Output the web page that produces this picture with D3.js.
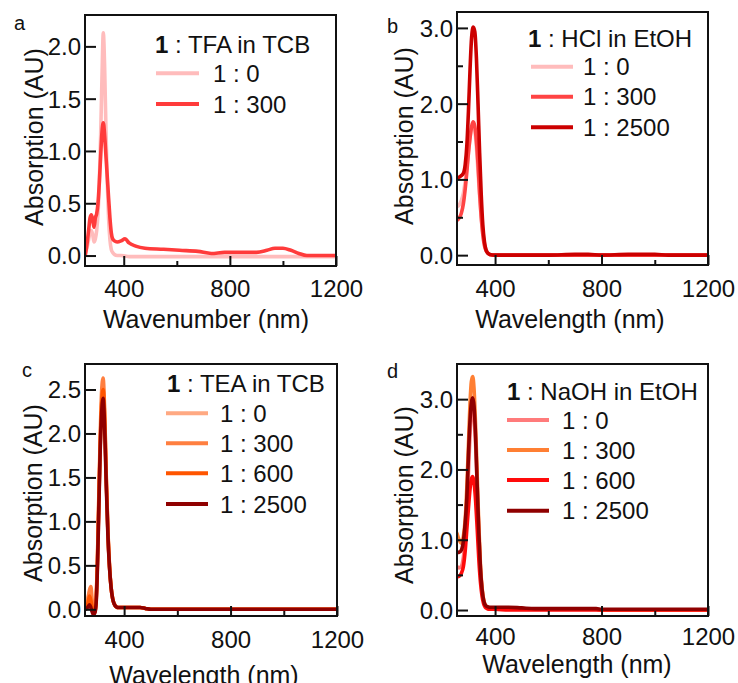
<!DOCTYPE html>
<html>
<head>
<meta charset="utf-8">
<script src="https://cdn.jsdelivr.net/npm/d3@7"></script>
<style>
  html, body { margin: 0; padding: 0; background: #fff; }
  svg { display: block; }
  text { font-family: "Liberation Sans", Arial, Helvetica, sans-serif; fill: #111; }
</style>
</head>
<body>
<svg id="chart" width="738" height="683"></svg>
<script>
// ---------- data: UV-vis absorption spectra (wavelength in nm, absorbance in AU) ----------

// (a) 1 : TFA in TCB
const waveA = [255, 262, 268, 273, 278, 283, 288, 293, 298, 303, 308, 313, 318, 323, 328, 333, 338, 343, 348, 353, 358, 365, 375, 390, 405, 420, 445, 480, 550, 610, 680, 730, 780, 850, 900, 940, 970, 1000, 1030, 1060, 1090, 1130, 1200];
const tfa_1_0   = [0.02, 0.08, 0.16, 0.22, 0.24, 0.20, 0.13, 0.16, 0.24, 0.40, 0.70, 1.15, 1.70, 2.13, 1.80, 1.20, 0.70, 0.35, 0.15, 0.06, 0.03, 0.01, 0.00, 0.00, -0.005, -0.01, -0.01, -0.01, -0.01, -0.01, -0.01, -0.01, -0.01, -0.01, -0.01, -0.01, -0.01, -0.01, -0.01, -0.01, -0.01, -0.01, -0.01];
const tfa_1_300 = [0.00, 0.12, 0.25, 0.36, 0.39, 0.34, 0.27, 0.36, 0.40, 0.50, 0.70, 0.95, 1.18, 1.27, 1.15, 0.95, 0.75, 0.55, 0.36, 0.22, 0.16, 0.14, 0.13, 0.14, 0.16, 0.12, 0.09, 0.07, 0.06, 0.05, 0.04, 0.02, 0.03, 0.03, 0.03, 0.05, 0.07, 0.07, 0.05, 0.02, 0.00, 0.00, 0.00];

// (b) 1 : HCl in EtOH
const waveB = [257, 265, 273, 281, 288, 294, 300, 306, 312, 318, 324, 330, 336, 342, 348, 354, 360, 366, 372, 380, 400, 450, 500, 600, 700, 750, 800, 900, 950, 1000, 1050, 1100, 1200];
const hcl_1_0    = [0.64, 0.66, 0.72, 0.82, 0.98, 1.15, 1.35, 1.55, 1.68, 1.72, 1.65, 1.42, 1.10, 0.78, 0.50, 0.30, 0.15, 0.07, 0.03, 0.01, 0.00, 0.00, 0.00, 0.00, 0.00, 0.00, 0.00, 0.00, 0.00, 0.00, 0.00, 0.00, 0.00];
const hcl_1_300  = [0.46, 0.49, 0.55, 0.68, 0.88, 1.10, 1.35, 1.55, 1.70, 1.76, 1.70, 1.50, 1.20, 0.82, 0.50, 0.27, 0.13, 0.06, 0.03, 0.01, 0.00, 0.00, 0.00, 0.00, 0.00, 0.00, 0.00, 0.00, 0.00, 0.00, 0.00, 0.00, 0.00];
const hcl_1_2500 = [1.01, 1.03, 1.05, 1.08, 1.20, 1.45, 1.90, 2.45, 2.88, 3.01, 2.95, 2.60, 2.00, 1.35, 0.80, 0.40, 0.18, 0.07, 0.03, 0.01, 0.00, 0.00, 0.00, 0.00, 0.01, 0.01, 0.00, 0.01, 0.01, 0.01, 0.00, 0.00, 0.00];

// (c) 1 : TEA in TCB
const waveC = [254, 260, 265, 270, 275, 280, 285, 290, 295, 300, 305, 310, 315, 321, 327, 333, 339, 345, 351, 357, 363, 370, 380, 400, 430, 460, 480, 500, 600, 800, 1000, 1200];
const tea_1_0    = [0.02, 0.08, 0.15, 0.20, 0.12, 0.02, -0.03, -0.02, 0.15, 0.60, 1.25, 1.85, 2.30, 2.52, 2.20, 1.50, 0.90, 0.50, 0.25, 0.12, 0.06, 0.03, 0.02, 0.02, 0.02, 0.02, 0.01, 0.00, 0.00, 0.00, 0.00, 0.00];
const tea_1_300  = [0.00, 0.05, 0.12, 0.22, 0.26, 0.10, -0.04, -0.03, 0.12, 0.60, 1.30, 1.95, 2.45, 2.63, 2.25, 1.50, 0.90, 0.50, 0.25, 0.12, 0.06, 0.03, 0.02, 0.02, 0.02, 0.02, 0.01, 0.00, 0.00, 0.00, 0.00, 0.00];
const tea_1_600  = [0.00, 0.03, 0.08, 0.15, 0.10, 0.02, -0.05, -0.03, 0.10, 0.55, 1.20, 1.85, 2.30, 2.50, 2.15, 1.45, 0.88, 0.49, 0.25, 0.12, 0.06, 0.03, 0.02, 0.02, 0.02, 0.02, 0.01, 0.00, 0.00, 0.00, 0.00, 0.00];
const tea_1_2500 = [0.00, 0.01, 0.03, 0.05, 0.02, -0.03, -0.06, -0.04, 0.08, 0.50, 1.15, 1.80, 2.20, 2.40, 2.05, 1.40, 0.85, 0.48, 0.25, 0.12, 0.06, 0.03, 0.02, 0.02, 0.02, 0.02, 0.01, 0.00, 0.00, 0.00, 0.00, 0.00];

// (d) 1 : NaOH in EtOH
const waveD = [257, 265, 273, 281, 288, 294, 300, 306, 311, 316, 321, 327, 333, 339, 345, 351, 357, 363, 370, 380, 400, 450, 500, 550, 650, 780, 800, 900, 1000, 1100, 1200];
const naoh_1_0    = [0.62, 0.60, 0.62, 0.75, 1.00, 1.40, 1.95, 2.50, 2.80, 2.88, 2.75, 2.35, 1.75, 1.10, 0.60, 0.30, 0.14, 0.07, 0.04, 0.03, 0.03, 0.02, 0.02, 0.01, 0.01, 0.01, 0.00, 0.00, 0.00, 0.00, 0.00];
const naoh_1_300  = [1.09, 1.00, 0.95, 1.05, 1.30, 1.75, 2.35, 2.95, 3.25, 3.32, 3.15, 2.60, 1.90, 1.20, 0.65, 0.32, 0.15, 0.07, 0.04, 0.03, 0.03, 0.02, 0.02, 0.01, 0.01, 0.01, 0.00, 0.00, 0.00, 0.00, 0.00];
const naoh_1_600  = [0.47, 0.48, 0.52, 0.62, 0.85, 1.15, 1.45, 1.72, 1.86, 1.90, 1.82, 1.55, 1.15, 0.72, 0.40, 0.20, 0.09, 0.04, 0.02, 0.01, 0.01, 0.00, 0.00, 0.00, 0.00, 0.00, 0.00, 0.00, 0.00, 0.00, 0.00];
const naoh_1_2500 = [0.83, 0.82, 0.85, 0.98, 1.25, 1.60, 2.20, 2.70, 2.95, 3.02, 2.90, 2.45, 1.75, 1.10, 0.60, 0.30, 0.14, 0.07, 0.05, 0.04, 0.04, 0.04, 0.03, 0.02, 0.02, 0.02, 0.01, 0.01, 0.01, 0.01, 0.01];

// legend labels and axis ticks
const ratioLabels2 = ["1 : 0", "1 : 300"];
const ratioLabels3 = ["1 : 0", "1 : 300", "1 : 2500"];
const ratioLabels4 = ["1 : 0", "1 : 300", "1 : 600", "1 : 2500"];
const xMajorTicks = [400, 800, 1200];
const xMinorTicks = [600, 1000];
const yTicksA = [0, 0.5, 1.0, 1.5, 2.0];
const yTicksB = [0, 1, 2, 3];
const yMinorB = [0.5, 1.5, 2.5];
const yTicksC = [0, 0.5, 1.0, 1.5, 2.0, 2.5];
const yTicksD = [0, 1, 2, 3];
const yMinorD = [0.5, 1.5, 2.5];

// ---------- panel layout ----------
const panels = [
  {
    letter: "a", letterPos: [14, 30],
    box: { x0: 85, x1: 336, y0: 15, y1: 266 },
    xDomain: [254, 1200], yDomain: [-0.1, 2.3],
    yTicks: yTicksA, yMinor: [],
    xTitle: "Wavenumber (nm)", xTitlePos: [206, 328], xTickBase: 297,
    yTitlePos: [43, 137],
    legendTitle: " : TFA in TCB", legendTitlePos: [155, 53],
    legendRows: [73.3, 104], legendLine: [156, 199], legendText: 213,
    wave: waveA, series: [tfa_1_0, tfa_1_300], labels: ratioLabels2,
    colors: ["#ffbcbc", "#ff3b3b"]
  },
  {
    letter: "b", letterPos: [387, 33],
    box: { x0: 457, x1: 708, y0: 12, y1: 265 },
    xDomain: [257, 1200], yDomain: [-0.13, 3.21],
    yTicks: yTicksB, yMinor: yMinorB,
    xTitle: "Wavelength (nm)", xTitlePos: [570, 328], xTickBase: 297,
    yTitlePos: [413, 136],
    legendTitle: " : HCl in EtOH", legendTitlePos: [528, 47],
    legendRows: [66.7, 96.7, 127.3], legendLine: [531, 573], legendText: 583,
    wave: waveB, series: [hcl_1_0, hcl_1_300, hcl_1_2500], labels: ratioLabels3,
    colors: ["#ffbcbc", "#ff4444", "#cc0000"]
  },
  {
    letter: "c", letterPos: [22, 377],
    box: { x0: 85, x1: 337, y0: 364, y1: 616 },
    xDomain: [253, 1200], yDomain: [-0.076, 2.79],
    yTicks: yTicksC, yMinor: [],
    xTitle: "Wavelength (nm)", xTitlePos: [204, 684], xTickBase: 648,
    yTitlePos: [42, 493],
    legendTitle: " : TEA in TCB", legendTitlePos: [167, 392],
    legendRows: [413.3, 443.3, 473.3, 504], legendLine: [166, 208], legendText: 220,
    wave: waveC, series: [tea_1_0, tea_1_300, tea_1_600, tea_1_2500], labels: ratioLabels4,
    colors: ["#ffa982", "#ff7f40", "#ff5500", "#8f0000"]
  },
  {
    letter: "d", letterPos: [387, 378],
    box: { x0: 457, x1: 708, y0: 364, y1: 616 },
    xDomain: [257, 1200], yDomain: [-0.085, 3.5],
    yTicks: yTicksD, yMinor: yMinorD,
    xTitle: "Wavelength (nm)", xTitlePos: [577, 673], xTickBase: 645,
    yTitlePos: [413, 495],
    legendTitle: " : NaOH in EtOH", legendTitlePos: [507, 400],
    legendRows: [420, 450, 480, 510.7], legendLine: [507, 549], legendText: 562,
    wave: waveD, series: [naoh_1_0, naoh_1_300, naoh_1_600, naoh_1_2500], labels: ratioLabels4,
    colors: ["#ff7b7b", "#ff7f33", "#ff0a0a", "#8f0000"]
  }
];

const svg = d3.select("#chart");
const TICK_FONT = 24, TITLE_FONT = 25, LEGEND_FONT = 24;

panels.forEach((p) => {
  const b = p.box;
  const x = d3.scaleLinear().domain(p.xDomain).range([b.x0, b.x1]);
  const y = d3.scaleLinear().domain(p.yDomain).range([b.y1, b.y0]);
  const g = svg.append("g").attr("class", "panel-" + p.letter);

  // clip the spectra to the frame
  const clipId = "clip-" + p.letter;
  g.append("clipPath").attr("id", clipId)
    .append("rect").attr("x", b.x0).attr("y", b.y0)
    .attr("width", b.x1 - b.x0).attr("height", b.y1 - b.y0);

  // spectra
  const line = d3.line().x(d => x(d[0])).y(d => y(d[1])).curve(d3.curveMonotoneX);
  const plot = g.append("g").attr("clip-path", `url(#${clipId})`);
  p.series.forEach((vals, i) => {
    plot.append("path")
      .datum(p.wave.map((w, k) => [w, vals[k]]))
      .attr("d", line)
      .attr("fill", "none")
      .attr("stroke", p.colors[i])
      .attr("stroke-width", 3.6)
      .attr("stroke-linejoin", "round")
      .attr("stroke-linecap", "round");
  });

  // bottom axis: inward ticks
  const xAxis = d3.axisBottom(x).tickValues(xMajorTicks).tickSize(-10).tickPadding(0).tickFormat(d3.format("d"));
  const xg = g.append("g").attr("transform", `translate(0,${b.y1})`).call(xAxis);
  xg.select(".domain").remove();
  xg.selectAll(".tick line").attr("stroke", "#111").attr("stroke-width", 2);
  xg.selectAll(".tick text")
    .attr("y", p.xTickBase - b.y1).attr("dy", null)
    .style("font-size", TICK_FONT + "px").attr("fill", "#111");
  const xMinorAxis = d3.axisBottom(x).tickValues(xMinorTicks).tickSize(-5).tickFormat("");
  const xmg = g.append("g").attr("transform", `translate(0,${b.y1})`).call(xMinorAxis);
  xmg.select(".domain").remove();
  xmg.selectAll(".tick line").attr("stroke", "#111").attr("stroke-width", 2);

  // left axis: inward ticks
  const yAxis = d3.axisLeft(y).tickValues(p.yTicks).tickSize(-11).tickPadding(0).tickFormat(d3.format(".1f"));
  const yg = g.append("g").attr("transform", `translate(${b.x0},0)`).call(yAxis);
  yg.select(".domain").remove();
  yg.selectAll(".tick line").attr("stroke", "#111").attr("stroke-width", 2);
  yg.selectAll(".tick text")
    .attr("x", -4).attr("dy", "0.35em")
    .style("font-size", TICK_FONT + "px").attr("fill", "#111");
  if (p.yMinor.length) {
    const yMinorAxis = d3.axisLeft(y).tickValues(p.yMinor).tickSize(-6).tickFormat("");
    const ymg = g.append("g").attr("transform", `translate(${b.x0},0)`).call(yMinorAxis);
    ymg.select(".domain").remove();
    ymg.selectAll(".tick line").attr("stroke", "#111").attr("stroke-width", 2);
  }

  // frame
  g.append("rect")
    .attr("x", b.x0).attr("y", b.y0)
    .attr("width", b.x1 - b.x0).attr("height", b.y1 - b.y0)
    .attr("fill", "none").attr("stroke", "#111").attr("stroke-width", 2);

  // axis titles
  g.append("text")
    .attr("x", p.xTitlePos[0]).attr("y", p.xTitlePos[1])
    .attr("text-anchor", "middle")
    .style("font-size", TITLE_FONT + "px")
    .text(p.xTitle);
  g.append("text")
    .attr("transform", `translate(${p.yTitlePos[0]},${p.yTitlePos[1]}) rotate(-90)`)
    .attr("text-anchor", "middle")
    .style("font-size", TITLE_FONT + "px")
    .text("Absorption (AU)");

  // panel letter
  g.append("text")
    .attr("x", p.letterPos[0]).attr("y", p.letterPos[1])
    .style("font-size", "20px")
    .text(p.letter);

  // legend
  const lt = g.append("text")
    .attr("x", p.legendTitlePos[0]).attr("y", p.legendTitlePos[1])
    .style("font-size", LEGEND_FONT + "px");
  lt.append("tspan").style("font-weight", "bold").text("1");
  lt.append("tspan").text(p.legendTitle);

  p.labels.forEach((lab, i) => {
    const ry = p.legendRows[i];
    g.append("line")
      .attr("x1", p.legendLine[0]).attr("x2", p.legendLine[1])
      .attr("y1", ry).attr("y2", ry)
      .attr("stroke", p.colors[i]).attr("stroke-width", 4);
    g.append("text")
      .attr("x", p.legendText).attr("y", ry + 8.5)
      .style("font-size", LEGEND_FONT + "px")
      .text(lab);
  });
});
</script>
</body>
</html>
